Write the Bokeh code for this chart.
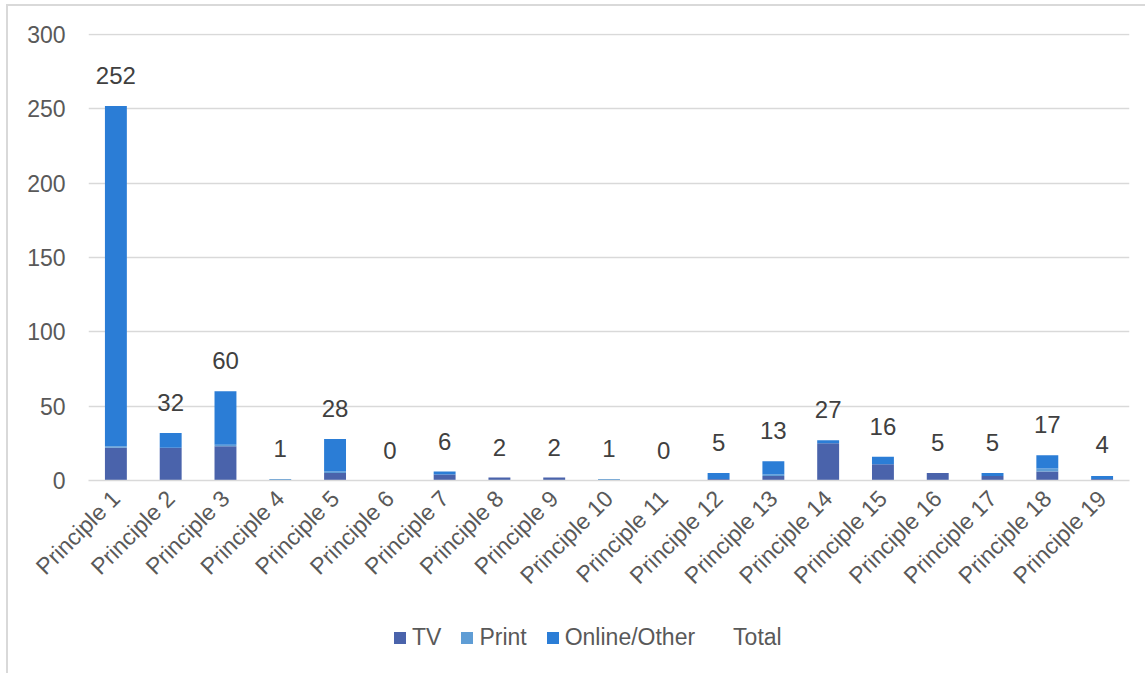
import math
from bokeh.plotting import figure
from bokeh.layouts import column
from bokeh.models import (ColumnDataSource, FactorRange, Range1d, Legend, LegendItem,
                          SingleIntervalTicker)
from bokeh.core.properties import value
from bokeh.embed import file_html
from bokeh.resources import INLINE

categories = ["Principle %d" % i for i in range(1, 20)]
tv = [22, 22, 23, 0, 5, 0, 4, 2, 2, 0, 0, 1, 3, 25, 11, 5, 3, 6, 1]
print_ = [1, 0, 1, 1, 1, 0, 0, 0, 0, 1, 0, 0, 1, 0, 0, 0, 0, 2, 0]
online = [229, 10, 36, 0, 22, 0, 2, 0, 0, 0, 0, 4, 9, 2, 5, 0, 2, 9, 2]
totals = [252, 32, 60, 1, 28, 0, 6, 2, 2, 1, 0, 5, 13, 27, 16, 5, 5, 17, 4]
series = ["TV", "Print", "Online/Other"]
colors = ["#4A63AB", "#5F9DD5", "#2B7DD6"]

FONT = "Liberation Sans"
TXT = "#595959"
BORDER = "#D9D9D9"

src = ColumnDataSource(dict(cat=categories, TV=tv, Print=print_, total=totals))
src.data["Online/Other"] = online

W, H1, H2 = 1145, 600, 73

p = figure(width=W, height=H1, x_range=FactorRange(*categories, range_padding=0),
           y_range=Range1d(0, 300.7), output_backend="svg", toolbar_location=None,
           min_border_left=88, min_border_right=16, min_border_top=33,
           min_border_bottom=H1 - 480)
p.outline_line_color = None
p.background_fill_color = "white"
p.border_fill_alpha = 0
p.styles = {
    "background": f"linear-gradient({BORDER},{BORDER}) 6px 4px / 2px 100% no-repeat, "
                  f"linear-gradient({BORDER},{BORDER}) 6px 4px / 100% 2px no-repeat, white"
}

rs = p.vbar_stack(series, x="cat", width=0.4, source=src, color=colors, line_color=None)

p.text(x="cat", y="total", text="total", source=src, text_align="center",
       text_baseline="bottom", y_offset=-22, text_font=value(FONT),
       text_font_size="24px", text_color="#404040")

# axes
p.yaxis.ticker = SingleIntervalTicker(interval=50)
p.yaxis.axis_line_color = None
p.yaxis.major_tick_line_color = None
p.yaxis.minor_tick_line_color = None
p.yaxis.major_label_standoff = 17
p.yaxis.major_label_text_font = FONT
p.yaxis.major_label_text_font_size = "23px"
p.yaxis.major_label_text_color = TXT

p.xaxis.axis_line_color = BORDER
p.xaxis.axis_line_width = 1.5
p.xaxis.major_tick_line_color = None
p.xaxis.minor_tick_line_color = None
p.xaxis.major_label_orientation = math.pi / 4
p.xaxis.major_label_standoff = 8
p.xaxis.major_label_text_font = FONT
p.xaxis.major_label_text_font_size = "23px"
p.xaxis.major_label_text_color = TXT

p.xgrid.grid_line_color = None
p.ygrid.grid_line_color = BORDER
p.ygrid.grid_line_width = 1.5

# legend strip (separate figure, same width; its frame aligns with the chart frame)
pl = figure(width=W, height=H2, x_range=Range1d(0, 1), y_range=Range1d(0, 1),
            output_backend="svg", toolbar_location=None,
            min_border_left=88, min_border_right=16, min_border_top=0, min_border_bottom=0)
pl.axis.visible = False
pl.grid.visible = False
pl.outline_line_color = None
pl.background_fill_alpha = 0
pl.border_fill_alpha = 0
pl.styles = {
    "background": f"linear-gradient({BORDER},{BORDER}) 6px 0px / 2px 100% no-repeat, white"
}
lr = [pl.vbar(x=[5], top=[0], width=0.1, color=c, line_color=None) for c in colors]
lt = pl.vbar(x=[5], top=[0], width=0.1, fill_alpha=0, line_alpha=0)

legend = Legend(items=[LegendItem(label="TV", renderers=[lr[0]]),
                       LegendItem(label="Print", renderers=[lr[1]]),
                       LegendItem(label="Online/Other", renderers=[lr[2]]),
                       LegendItem(label="Total", renderers=[lt])],
                orientation="horizontal", location=(304, 22),
                glyph_width=15, glyph_height=15, label_standoff=5, spacing=18,
                padding=0, margin=0, border_line_color=None, background_fill_alpha=0,
                label_text_font=FONT, label_text_font_size="23px", label_text_color=TXT,
                label_height=20)
pl.add_layout(legend, "center")

layout = column(p, pl, spacing=0)
open("out.html", "w").write(file_html(layout, INLINE))
